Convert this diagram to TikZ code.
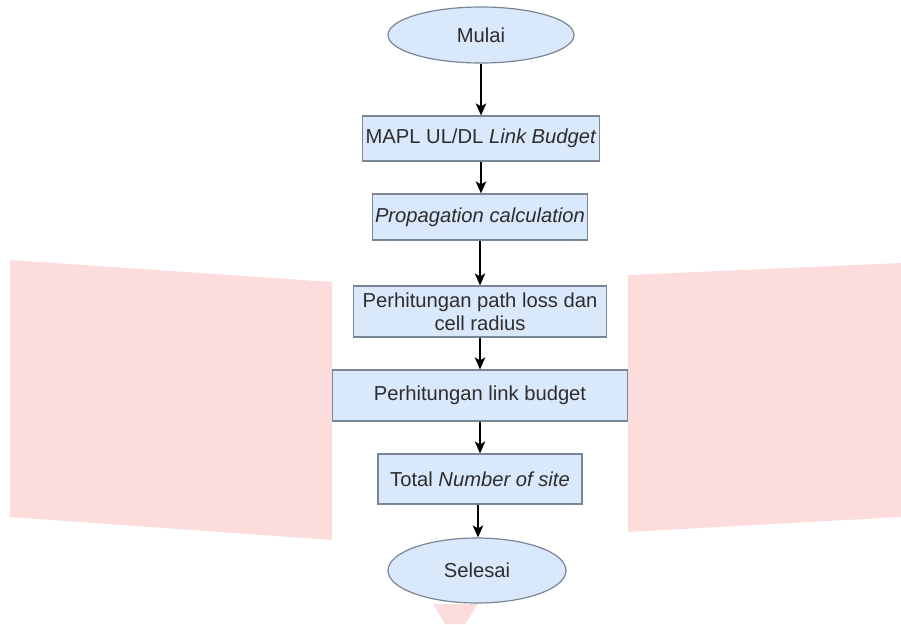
\documentclass[tikz,border=0pt]{standalone}
\usepackage{fontspec}
\setmainfont{Liberation Sans}
\usetikzlibrary{shapes.geometric,arrows.meta}
\definecolor{wm}{RGB}{253,220,221}
\definecolor{boxfill}{RGB}{218,232,252}
\definecolor{boxline}{RGB}{120,134,150}
\definecolor{txt}{RGB}{45,45,45}
\tikzset{
  every node/.style={font=\fontsize{20.2}{23}\selectfont, text=txt},
  stepbox/.style={draw=boxline, fill=boxfill, line width=1.2pt, rectangle, inner sep=0pt, align=center},
  term/.style={draw=boxline, fill=boxfill, line width=1.2pt, ellipse, inner sep=0pt},
  flow/.style={draw=black, line width=1.5pt, -{Stealth[length=12pt,width=10.5pt,inset=3pt]}},
}
\begin{document}
\begin{tikzpicture}[x=1pt,y=-1pt]
\useasboundingbox (0,0) rectangle (901,624);
% watermark shapes
\fill[wm] (10,260) -- (332,282) -- (332,540) -- (10,517) -- cycle;
\fill[wm] (628,275) -- (901,263) -- (901,517) -- (628,532) -- cycle;
\fill[wm] (433,604) -- (478,604) -- (465,624) -- (445,624) -- cycle;
% nodes
\node[term, minimum width=186pt, minimum height=56pt] (start) at (481,35) {Mulai};
\node[stepbox, minimum width=237pt, minimum height=45pt] (mapl) at (481,138.5) {MAPL UL/DL \textit{Link Budget}};
\node[stepbox, minimum width=215pt, minimum height=46pt] (prop) at (480,217) {\textit{Propagation calculation}};
\node[stepbox, minimum width=253pt, minimum height=51pt] (path) at (480,311.5) {Perhitungan path loss dan\\cell radius};
\node[stepbox, minimum width=295pt, minimum height=51pt] (link) at (480,395.5) {Perhitungan link budget};
\node[stepbox, minimum width=204pt, minimum height=50pt] (total) at (480,479) {Total \textit{Number of site}};
\node[term, minimum width=178pt, minimum height=65pt] (end) at (477,570.5) {Selesai};
% arrows
\draw[flow] (start.south) -- (start.south |- mapl.north);
\draw[flow] (mapl.south) -- (mapl.south |- prop.north);
\draw[flow] (prop.south) -- (prop.south |- path.north);
\draw[flow] (path.south) -- (link.north);
\draw[flow] (link.south) -- (total.north);
\draw[flow] ([xshift=-2pt]total.south) -- ([xshift=-2pt]total.south |- end.north);
\end{tikzpicture}
\end{document}
